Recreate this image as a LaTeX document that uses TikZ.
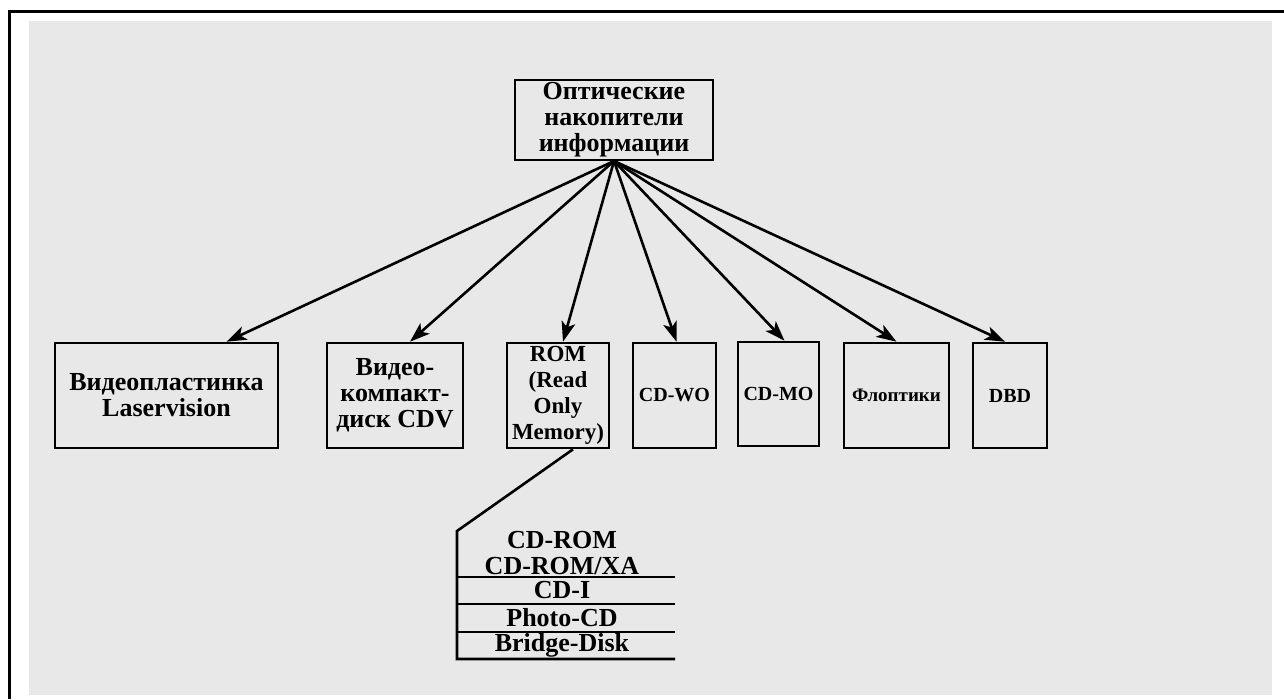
\documentclass[tikz,border=0pt]{standalone}
\usepackage{fontspec}
\setmainfont{Liberation Serif}
\usetikzlibrary{arrows.meta}
\begin{document}
\begin{tikzpicture}[x=1pt,y=-1pt,
  big/.style={font=\fontsize{26}{26}\selectfont\bfseries},
  mid/.style={font=\fontsize{23}{26}\selectfont\bfseries},
  small/.style={font=\fontsize{20}{24}\selectfont\bfseries},
  box/.style={draw,line width=2.6pt,inner sep=0pt,align=center},
  arr/.style={line width=2.6pt,-{Stealth[length=20pt,width=14pt,inset=5pt]}},
  item/.style={big,inner sep=0pt},
  rule/.style={line width=2.6pt}]
\useasboundingbox (0,0) rectangle (1284,699);
\fill[black!9] (29,21) rectangle (1272,695);
\draw[line width=3pt] (9,699) -- (9,11) -- (1284,11);
% top node
\node[box, big, minimum width=198, minimum height=80] (root) at (614,120) {Оптические\\накопители\\информации};
% bottom nodes
\node[box, big, minimum width=223, minimum height=105] (b1) at (166.5,395.5) {Видеопластинка\\Laservision};
\node[box, big, minimum width=136, minimum height=105] (b2) at (395,395.5) {Видео-\\компакт-\\диск CDV};
\node[box, mid, minimum width=102, minimum height=105] (b3) at (558,395.5) {ROM\\(Read\\Only\\Memory)};
\node[box, small, minimum width=83, minimum height=105] (b4) at (674.5,395.5) {CD-WO};
\node[box, small, minimum width=81, minimum height=104] (b5) at (778.5,394) {CD-MO};
\node[box, small, font=\fontsize{19}{24}\selectfont\bfseries, minimum width=105, minimum height=105] (b6) at (896.5,395.5) {Флоптики};
\node[box, small, minimum width=74, minimum height=105] (b7) at (1010,395.5) {DBD};
% arrows
\coordinate (hub) at (614,161);
\draw[arr] (hub) -- ([xshift=60pt]b1.north);
\draw[arr] (hub) -- ([xshift=15pt]b2.north);
\draw[arr] (hub) -- ([xshift=5pt]b3.north);
\draw[arr] (hub) -- ([xshift=2pt]b4.north);
\draw[arr] (hub) -- ([xshift=6pt]b5.north);
\draw[arr] (hub) -- (b6.north);
\draw[arr] (hub) -- ([xshift=-5pt]b7.north);
% list under ROM
\coordinate (bend) at (457,531);
\coordinate (corner) at (457,659);
\coordinate (end4) at (675,659);
\draw[rule] ([xshift=15pt]b3.south) -- (bend) -- (corner) -- (end4);
\draw[rule] (457,577) -- (675,577);
\draw[rule] (457,604) -- (675,604);
\draw[rule] (457,632) -- (675,632);
\node[item] (l1) at (562,540) {CD-ROM};
\node[item] (l2) at (562,566) {CD-ROM/XA};
\node[item] (l3) at (562,590.5) {CD-I};
\node[item] (l4) at (562,618) {Photo-CD};
\node[item] (l5) at (562,645.5) {Bridge-Disk};
\end{tikzpicture}
\end{document}
